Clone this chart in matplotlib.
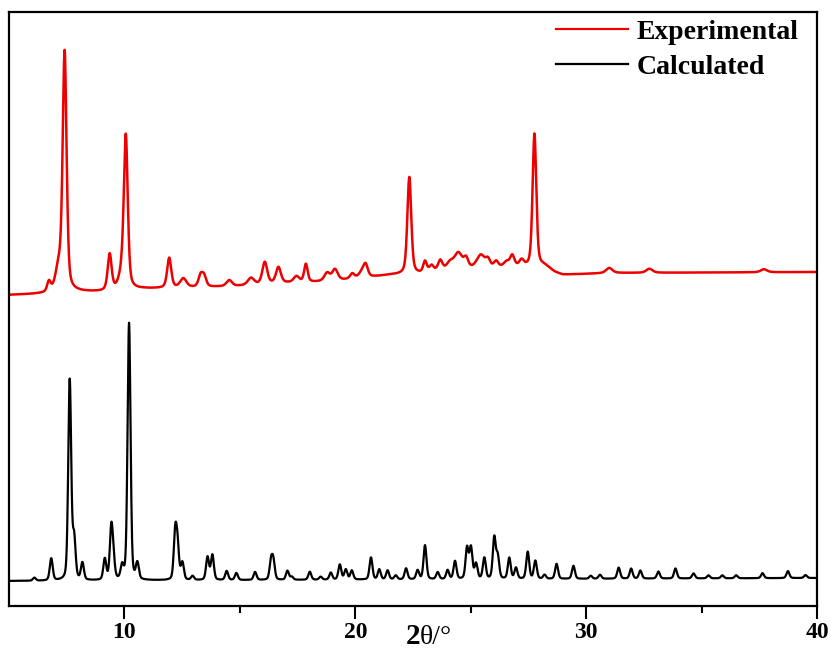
import numpy as np
import matplotlib
matplotlib.use("Agg")
import matplotlib.pyplot as plt
from matplotlib.lines import Line2D

# ---------------- data ----------------
x_range = (5, 40)
major_ticks = [10, 20, 30, 40]
minor_ticks = [15, 25, 35]
tick_labels = ["10", "20", "30", "40"]

# Experimental pattern: peak positions (2theta), heights (a.u.), widths (FWHM, deg)
exp_pos = [6.73, 7.15, 7.41, 9.36, 9.90, 10.06, 11.94, 12.55, 13.30, 13.45,
           14.54, 15.48, 16.08, 16.67, 17.45, 17.86, 18.78, 19.12, 19.87, 20.30,
           20.45, 22.34, 23.02, 23.30, 23.68, 24.10, 24.46, 24.80, 25.44, 25.75,
           26.10, 26.55, 26.80, 27.20, 27.76, 28.20, 31.00, 32.74, 37.70]
exp_height = [10, 22, 238, 36, 14, 149, 30, 9, 11, 10,
              6, 7, 22, 16, 6, 18, 8, 11, 5, 6,
              11, 97, 11, 6, 10, 6, 16, 9, 13, 7,
              6, 5, 11, 6, 134, 5, 5, 4, 3]
exp_fwhm = [0.18, 0.32, 0.20, 0.20, 0.32, 0.20, 0.21, 0.32, 0.22, 0.22,
            0.28, 0.32, 0.25, 0.25, 0.28, 0.18, 0.28, 0.28, 0.22, 0.32,
            0.22, 0.20, 0.18, 0.22, 0.22, 0.32, 0.42, 0.22, 0.42, 0.22,
            0.22, 0.28, 0.22, 0.22, 0.19, 0.60, 0.32, 0.32, 0.32]
exp_base_pos = [5, 6.5, 8.0, 9.0, 10.8, 13.8, 15.0, 17.0, 18.3, 19.5,
                21.5, 22.8, 24.0, 26.0, 27.3, 29.0, 31.0, 40.0]
exp_base_val = [311, 312, 314, 314, 317, 319, 320, 323, 324, 326,
                331, 332, 336, 338, 339, 331, 333, 334]

# Calculated pattern
calc_pos = [6.10, 6.83, 7.63, 7.82, 8.18, 9.15, 9.43, 9.52, 9.90, 10.20,
            10.56, 12.20, 12.30, 12.51, 12.95, 13.60, 13.81, 14.43, 14.85, 15.66,
            16.35, 16.45, 17.06, 17.25, 18.03, 18.50, 18.94, 19.33, 19.59, 19.85,
            20.68, 21.04, 21.40, 21.75, 22.20, 22.70, 23.02, 23.57, 24.00, 24.32,
            24.84, 25.01, 25.23, 25.59, 26.02, 26.17, 26.67, 26.96, 27.47, 27.80,
            28.20, 28.72, 29.45, 30.20, 30.60, 31.41, 31.95, 32.35, 33.13, 33.87,
            34.65, 35.30, 35.90, 36.50, 37.64, 38.74, 39.50]
calc_height = [3, 22, 200, 40, 17, 21, 50, 18, 13, 257,
               16, 46, 32, 17, 4, 23, 25, 9, 7, 8,
               18, 18, 9, 3, 8, 3, 7, 15, 10, 9,
               22, 10, 9, 4, 11, 9, 34, 7, 9, 18,
               31, 31, 15, 21, 41, 22, 21, 11, 27, 18,
               4, 15, 13, 3, 4, 11, 10, 8, 7, 10,
               5, 3, 3, 3, 5, 7, 3]
calc_fwhm = 0.15
calc_base_pos = [5, 40]
calc_base_val = [25, 28]


def profile(x, pos, height, fwhm, eta):
    y = np.zeros_like(x)
    fwhm = np.broadcast_to(np.asarray(fwhm, dtype=float), (len(pos),))
    for p, h, w in zip(pos, height, fwhm):
        g = np.exp(-4 * np.log(2) * ((x - p) / w) ** 2)
        l = 1.0 / (1.0 + 4 * ((x - p) / w) ** 2)
        y += h * (eta * l + (1 - eta) * g)
    return y


x = np.arange(x_range[0], x_range[1] + 1e-9, 0.01)
y_exp = np.interp(x, exp_base_pos, exp_base_val) + profile(x, exp_pos, exp_height, exp_fwhm, 0.45)
y_calc = np.interp(x, calc_base_pos, calc_base_val) + profile(x, calc_pos, calc_height, calc_fwhm, 0.3)

# ---------------- figure ----------------
fig = plt.figure(figsize=(8.32, 6.54), dpi=100)
ax = fig.add_axes([9 / 832, 1 - 606 / 654, 808 / 832, 594 / 654])

ax.plot(x, y_exp, color="#ee0000", lw=1.8)
ax.plot(x, y_calc, color="black", lw=1.6)

ax.set_xlim(*x_range)
ax.set_ylim(0, 594)
ax.set_yticks([])
ax.set_xticks(major_ticks)
ax.set_xticklabels(tick_labels, fontfamily="Liberation Serif", fontweight="bold", fontsize=17)
ax.set_xticks(minor_ticks, minor=True)
ax.tick_params(axis="x", which="major", direction="out", length=9.5, width=1.5, pad=2)
ax.tick_params(axis="x", which="minor", direction="out", length=5, width=1.5)
for s in ax.spines.values():
    s.set_linewidth(1.6)

fig.text(406 / 832, 1 - 644 / 654, "2", fontfamily="Liberation Serif", fontweight="bold",
         fontsize=21, ha="left", va="baseline")
fig.text(420 / 832, 1 - 644 / 654, "θ/°", fontfamily="Liberation Serif",
         fontsize=20, ha="left", va="baseline")

handles = [Line2D([], [], color="#ee0000", lw=1.6), Line2D([], [], color="black", lw=1.6)]
ax.legend(handles, ["Experimental", "Calculated"], loc="upper right",
          bbox_to_anchor=(0.977, 0.988), frameon=False, borderaxespad=0, borderpad=0,
          handlelength=2.6, handletextpad=0.3, labelspacing=0.35,
          prop={"family": "Liberation Serif", "weight": "bold", "size": 20})

fig.savefig("out.png", dpi=100)
